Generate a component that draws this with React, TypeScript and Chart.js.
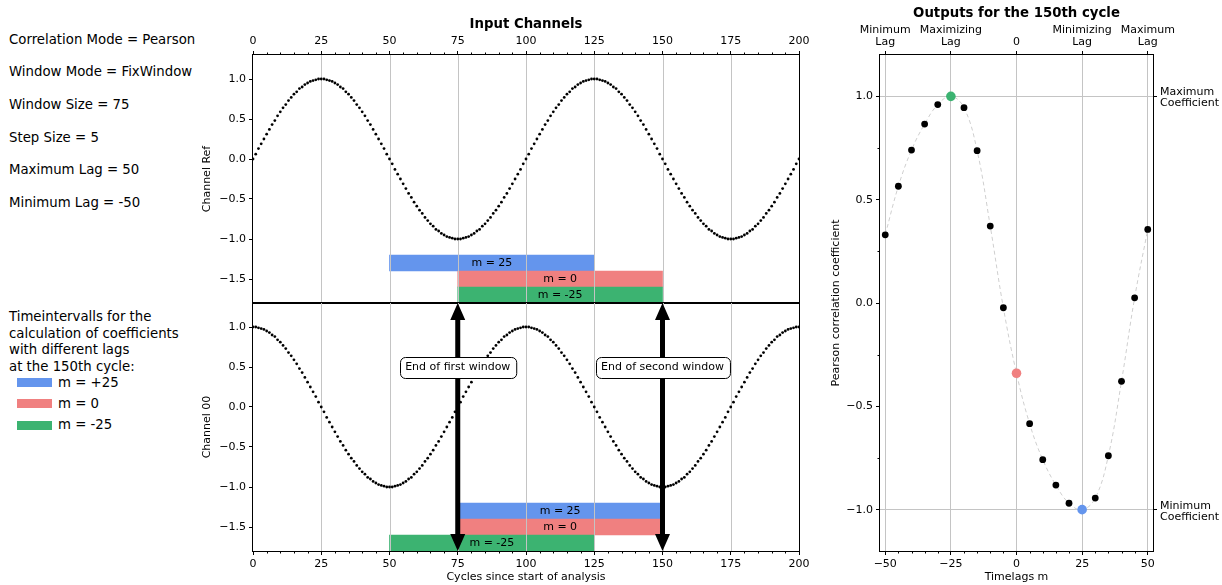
import React, { useEffect, useRef } from 'react';
import { Chart, registerables } from 'chart.js';

Chart.register(...registerables);

const FONT = "'DejaVu Sans', 'Liberation Sans', sans-serif";

// ---------------- data ----------------
// Channel Ref: one sample per cycle, cycles 0..200
const channelRef = [
  0,
  .06, .13, .19, .25, .31, .37, .43, .48, .54, .59, .64, .68, .73, .77, .81, .84, .88, .9, .93, .95, .97, .98, .99, 1, 1, 1, .99, .98, .97, .95, .93, .9, .88, .84, .81, .77, .73, .68, .64, .59, .54, .48, .43, .37, .31, .25, .19, .13, .06, 0,
  -.06, -.13, -.19, -.25, -.31, -.37, -.43, -.48, -.54, -.59, -.64, -.68, -.73, -.77, -.81, -.84, -.88, -.9, -.93, -.95, -.97, -.98, -.99, -1, -1, -1, -.99, -.98, -.97, -.95, -.93, -.9, -.88, -.84, -.81, -.77, -.73, -.68, -.64, -.59, -.54, -.48, -.43, -.37, -.31, -.25, -.19, -.13, -.06, 0,
  .06, .13, .19, .25, .31, .37, .43, .48, .54, .59, .64, .68, .73, .77, .81, .84, .88, .9, .93, .95, .97, .98, .99, 1, 1, 1, .99, .98, .97, .95, .93, .9, .88, .84, .81, .77, .73, .68, .64, .59, .54, .48, .43, .37, .31, .25, .19, .13, .06, 0,
  -.06, -.13, -.19, -.25, -.31, -.37, -.43, -.48, -.54, -.59, -.64, -.68, -.73, -.77, -.81, -.84, -.88, -.9, -.93, -.95, -.97, -.98, -.99, -1, -1, -1, -.99, -.98, -.97, -.95, -.93, -.9, -.88, -.84, -.81, -.77, -.73, -.68, -.64, -.59, -.54, -.48, -.43, -.37, -.31, -.25, -.19, -.13, -.06, 0,
];

// Channel 00: one sample per cycle, cycles 0..200
const channel00 = [
  1, 1, .99, .98, .97, .95, .93, .9, .88, .84, .81, .77, .73, .68, .64, .59, .54, .48, .43, .37, .31, .25, .19, .13, .06, 0,
  -.06, -.13, -.19, -.25, -.31, -.37, -.43, -.48, -.54, -.59, -.64, -.68, -.73, -.77, -.81, -.84, -.88, -.9, -.93, -.95, -.97, -.98, -.99, -1, -1, -1, -.99, -.98, -.97, -.95, -.93, -.9, -.88, -.84, -.81, -.77, -.73, -.68, -.64, -.59, -.54, -.48, -.43, -.37, -.31, -.25, -.19, -.13, -.06, 0,
  .06, .13, .19, .25, .31, .37, .43, .48, .54, .59, .64, .68, .73, .77, .81, .84, .88, .9, .93, .95, .97, .98, .99, 1, 1, 1, .99, .98, .97, .95, .93, .9, .88, .84, .81, .77, .73, .68, .64, .59, .54, .48, .43, .37, .31, .25, .19, .13, .06, 0,
  -.06, -.13, -.19, -.25, -.31, -.37, -.43, -.48, -.54, -.59, -.64, -.68, -.73, -.77, -.81, -.84, -.88, -.9, -.93, -.95, -.97, -.98, -.99, -1, -1, -1, -.99, -.98, -.97, -.95, -.93, -.9, -.88, -.84, -.81, -.77, -.73, -.68, -.64, -.59, -.54, -.48, -.43, -.37, -.31, -.25, -.19, -.13, -.06, 0,
  .06, .13, .19, .25, .31, .37, .43, .48, .54, .59, .64, .68, .73, .77, .81, .84, .88, .9, .93, .95, .97, .98, .99, 1, 1,
];

const cycleTicks = [0, 25, 50, 75, 100, 125, 150, 175, 200];
const cycleGrid = [25, 50, 75, 100, 125, 150, 175];
const channelTicks = [-1.5, -1, -0.5, 0, 0.5, 1];

// time interval bars (rows in channel units)
const barLabels = ['m = 25', 'm = 0', 'm = -25'];
const barColors = ['#6495ED', '#F08080', '#3CB371'];
const barRows = [-1.3, -1.5, -1.7];
const topBarStart = [50, 75, 75];
const topBarEnd = [125, 150, 150];
const bottomBarStart = [75, 75, 50];
const bottomBarEnd = [150, 150, 125];

const windowEnds = [75, 150];
const windowLabels = ['End of first window', 'End of second window'];
const windowLabelLevel = 0.5;

// outputs
const lags = [-50, -45, -40, -35, -30, -25, -20, -15, -10, -5, 0, 5, 10, 15, 20, 25, 30, 35, 40, 45, 50];
const coefficients = [0.33, 0.565, 0.74, 0.866, 0.96, 1.0, 0.945, 0.737, 0.372, -0.023, -0.34, -0.584, -0.758, -0.881, -0.969, -1.0, -0.944, -0.739, -0.379, 0.025, 0.356];
const maximizingLag = -25;
const zeroLag = 0;
const minimizingLag = 25;
const lagTicks = [-50, -25, 0, 25, 50];
const lagTopLabels: (string | string[])[] = [['Minimum', 'Lag'], ['Maximizing', 'Lag'], '0', ['Minimizing', 'Lag'], ['Maximum', 'Lag']];
const coefTicks = [-1, -0.5, 0, 0.5, 1];
const coefMarkTicks = [-1, 1];
const coefMarkLabels = [['Minimum', 'Coefficient'], ['Maximum', 'Coefficient']];

const infoLines = [
  'Correlation Mode = Pearson',
  'Window Mode = FixWindow',
  'Window Size = 75',
  'Step Size = 5',
  'Maximum Lag = 50',
  'Minimum Lag = -50',
];
const legendTitleLines = ['Timeintervalls for the', 'calculation of coefficients', 'with different lags', 'at the 150th cycle:'];
const legendLabels = ['m = +25', 'm = 0', 'm = -25'];
const legendColors = ['#6495ED', '#F08080', '#3CB371'];

// ---------------- helpers ----------------
const fmt1 = (v: number) => (v < 0 ? '\u2212' : '') + Math.abs(v).toFixed(1);
const fmt0 = (v: number) => (v < 0 ? '\u2212' : '') + String(Math.abs(Math.round(v)));
const SMALL = 11;
const BIG = 13.3;
const tickFont = { family: FONT, size: SMALL, lineHeight: 1.2 };
const GRID = '#c4c4c4';

function drawFrame(chart: any) {
  const { ctx, chartArea: a } = chart;
  ctx.save();
  ctx.strokeStyle = '#000';
  ctx.lineWidth = 1;
  ctx.strokeRect(Math.round(a.left) - 0.5, Math.round(a.top) - 0.5, Math.round(a.right - a.left) + 1, Math.round(a.bottom - a.top) + 1);
  ctx.restore();
}

function drawMinorX(chart: any, id: string, side: 'top' | 'bottom', from: number, to: number, step: number, skip: number) {
  const { ctx, chartArea: a } = chart;
  const s = chart.scales[id];
  ctx.save();
  ctx.strokeStyle = '#000';
  ctx.lineWidth = 1;
  for (let v = from; v <= to + 1e-9; v += step) {
    if (Math.abs(v / skip - Math.round(v / skip)) < 1e-6) continue;
    const x = Math.round(s.getPixelForValue(v)) + 0.5;
    ctx.beginPath();
    if (side === 'top') { ctx.moveTo(x, a.top); ctx.lineTo(x, a.top - 2.5); }
    else { ctx.moveTo(x, a.bottom); ctx.lineTo(x, a.bottom + 2.5); }
    ctx.stroke();
  }
  ctx.restore();
}

function drawMinorY(chart: any, id: string, values: number[]) {
  const { ctx, chartArea: a } = chart;
  const s = chart.scales[id];
  ctx.save();
  ctx.strokeStyle = '#000';
  ctx.lineWidth = 1;
  values.forEach((v) => {
    const y = Math.round(s.getPixelForValue(v)) + 0.5;
    ctx.beginPath();
    ctx.moveTo(a.left, y);
    ctx.lineTo(a.left - 2.5, y);
    ctx.stroke();
  });
  ctx.restore();
}

function drawCycleGrid(chart: any) {
  const { ctx, chartArea: a } = chart;
  const s = chart.scales.x;
  ctx.save();
  ctx.strokeStyle = GRID;
  ctx.lineWidth = 1;
  cycleGrid.forEach((v) => {
    const x = Math.round(s.getPixelForValue(v)) + 0.5;
    ctx.beginPath();
    ctx.moveTo(x, a.top);
    ctx.lineTo(x, a.bottom);
    ctx.stroke();
  });
  ctx.restore();
}

function drawBarLabels(chart: any) {
  const { ctx } = chart;
  const meta = chart.getDatasetMeta(0);
  ctx.save();
  ctx.fillStyle = '#000';
  ctx.font = `${SMALL}px ${FONT}`;
  ctx.textAlign = 'center';
  ctx.textBaseline = 'middle';
  meta.data.forEach((el: any, i: number) => {
    const cx = (el.x + el.base) / 2;
    ctx.fillText(barLabels[i], cx, el.y + 0.5);
  });
  ctx.restore();
}

function drawDoubleArrow(ctx: CanvasRenderingContext2D, x: number, yTop: number, yBot: number) {
  const shaft = 5, headW = 15, headL = 17;
  ctx.save();
  ctx.fillStyle = '#000';
  ctx.beginPath();
  ctx.moveTo(x, yTop);
  ctx.lineTo(x + headW / 2, yTop + headL);
  ctx.lineTo(x + shaft / 2, yTop + headL);
  ctx.lineTo(x + shaft / 2, yBot - headL);
  ctx.lineTo(x + headW / 2, yBot - headL);
  ctx.lineTo(x, yBot);
  ctx.lineTo(x - headW / 2, yBot - headL);
  ctx.lineTo(x - shaft / 2, yBot - headL);
  ctx.lineTo(x - shaft / 2, yTop + headL);
  ctx.lineTo(x - headW / 2, yTop + headL);
  ctx.closePath();
  ctx.fill();
  ctx.restore();
}

function drawLabelBox(ctx: CanvasRenderingContext2D, text: string, cx: number, cy: number) {
  ctx.save();
  ctx.font = `${SMALL}px ${FONT}`;
  const w = ctx.measureText(text).width + 11;
  const h = 21;
  const x = Math.round(cx - w / 2) + 0.5;
  const y = Math.round(cy - h / 2) + 0.5;
  const r = 5;
  ctx.beginPath();
  ctx.moveTo(x + r, y);
  ctx.lineTo(x + w - r, y);
  ctx.arcTo(x + w, y, x + w, y + r, r);
  ctx.lineTo(x + w, y + h - r);
  ctx.arcTo(x + w, y + h, x + w - r, y + h, r);
  ctx.lineTo(x + r, y + h);
  ctx.arcTo(x, y + h, x, y + h - r, r);
  ctx.lineTo(x, y + r);
  ctx.arcTo(x, y, x + r, y, r);
  ctx.closePath();
  ctx.fillStyle = '#fff';
  ctx.fill();
  ctx.strokeStyle = '#000';
  ctx.lineWidth = 1;
  ctx.stroke();
  ctx.fillStyle = '#000';
  ctx.textAlign = 'center';
  ctx.textBaseline = 'middle';
  ctx.fillText(text, cx, cy + 0.5);
  ctx.restore();
}

function cycleXScale(position: 'top' | 'bottom', height: number, title?: string) {
  return {
    type: 'linear',
    position,
    min: 0,
    max: 200,
    offset: false,
    afterBuildTicks: (s: any) => { s.ticks = cycleTicks.map((v) => ({ value: v })); },
    afterFit: (s: any) => { s.height = height; s.paddingLeft = 0; s.paddingRight = 0; },
    ticks: { font: tickFont, color: '#000', padding: 3, maxRotation: 0, autoSkip: false, callback: (v: any) => fmt0(Number(v)) },
    grid: { drawOnChartArea: false, drawTicks: true, tickLength: 4, tickColor: '#000', tickWidth: 1, offset: false },
    border: { display: false },
    title: title
      ? { display: true, text: title, font: tickFont, color: '#000', padding: { top: 0, bottom: 1.4 } }
      : { display: false },
  };
}

function channelYScale(title: string) {
  return {
    type: 'linear',
    position: 'left',
    min: -1.8,
    max: 1.3,
    offset: false,
    afterBuildTicks: (s: any) => { s.ticks = channelTicks.map((v) => ({ value: v })); },
    afterFit: (s: any) => { s.width = 63; s.paddingTop = 0; s.paddingBottom = 0; },
    ticks: { font: tickFont, color: '#000', padding: 3, autoSkip: false, callback: (v: any) => fmt1(Number(v)) },
    grid: { drawOnChartArea: false, drawTicks: true, tickLength: 4, tickColor: '#000', tickWidth: 1, offset: false },
    border: { display: false },
    title: { display: true, text: title, font: tickFont, color: '#000', padding: { top: 11, bottom: 0 } },
  };
}

function channelConfig(kind: 'top' | 'bottom'): any {
  const values = kind === 'top' ? channelRef : channel00;
  const starts = kind === 'top' ? topBarStart : bottomBarStart;
  const ends = kind === 'top' ? topBarEnd : bottomBarEnd;
  const plugin = {
    id: 'channelDecor' + kind,
    afterDatasetDraw(chart: any, args: any) {
      if (args.meta.type === 'bar') drawCycleGrid(chart);
    },
    afterDatasetsDraw(chart: any) {
      drawBarLabels(chart);
      if (kind === 'top') {
        drawMinorX(chart, 'x', 'top', 0, 200, 5, 25);
      } else {
        drawMinorX(chart, 'x', 'bottom', 0, 200, 5, 25);
        const xs = chart.scales.x;
        const ys = chart.scales.y;
        windowEnds.forEach((v) => {
          drawDoubleArrow(chart.ctx, xs.getPixelForValue(v), ys.getPixelForValue(ys.max), ys.getPixelForValue(ys.min));
        });
        windowEnds.forEach((v, i) => {
          drawLabelBox(chart.ctx, windowLabels[i], xs.getPixelForValue(v), ys.getPixelForValue(windowLabelLevel));
        });
      }
      drawFrame(chart);
    },
    afterDraw(chart: any) {
      if (kind !== 'top') return;
      const { ctx, chartArea: a } = chart;
      ctx.save();
      ctx.font = `bold ${BIG}px ${FONT}`;
      ctx.fillStyle = '#000';
      ctx.textAlign = 'center';
      ctx.textBaseline = 'middle';
      ctx.fillText('Input Channels', (a.left + a.right) / 2, 25);
      ctx.restore();
    },
  };
  return {
    type: 'scatter',
    data: {
      datasets: [
        {
          type: 'bar',
          indexAxis: 'y',
          xAxisID: 'x',
          yAxisID: 'y',
          data: barRows.map((r, i) => ({ y: r, x: [starts[i], ends[i]] })),
          backgroundColor: barColors,
          borderWidth: 0,
          barThickness: 16,
          grouped: false,
          order: 2,
        },
        {
          type: 'scatter',
          xAxisID: 'x',
          yAxisID: 'y',
          data: values.map((v, i) => ({ x: i, y: v })),
          pointRadius: 1.4,
          pointBackgroundColor: '#000',
          pointBorderWidth: 0,
          showLine: false,
          order: 1,
        },
      ],
    },
    options: {
      responsive: false,
      animation: false,
      devicePixelRatio: 1,
      events: [],
      layout: kind === 'top'
        ? { padding: { left: 0, right: 21, top: 0, bottom: 7 } }
        : { padding: { left: 0, right: 21, top: 7, bottom: 0 } },
      plugins: { legend: { display: false }, tooltip: { enabled: false }, title: { display: false } },
      scales: {
        x: kind === 'top' ? cycleXScale('top', 55) : cycleXScale('bottom', 34, 'Cycles since start of analysis'),
        y: channelYScale(kind === 'top' ? 'Channel Ref' : 'Channel 00'),
      },
    },
    plugins: [plugin],
  };
}

function outputConfig(): any {
  const pts = lags.map((l, i) => ({ x: l, y: coefficients[i] }));
  const colorFor = (l: number) =>
    l === maximizingLag ? '#3CB371' : l === zeroLag ? '#F08080' : l === minimizingLag ? '#6495ED' : '#000';
  const isSpecial = (l: number) => l === maximizingLag || l === zeroLag || l === minimizingLag;
  const plugin = {
    id: 'outputDecor',
    afterDatasetsDraw(chart: any) {
      drawMinorX(chart, 'x', 'bottom', -50, 50, 5, 25);
      drawMinorY(chart, 'y', [-0.75, -0.25, 0.25, 0.75]);
      drawFrame(chart);
    },
    afterDraw(chart: any) {
      const { ctx, chartArea: a } = chart;
      ctx.save();
      ctx.font = `bold ${BIG}px ${FONT}`;
      ctx.fillStyle = '#000';
      ctx.textAlign = 'center';
      ctx.textBaseline = 'middle';
      ctx.fillText('Outputs for the 150th cycle', (a.left + a.right) / 2, 14);
      ctx.restore();
    },
  };
  const baseTicks = { font: tickFont, color: '#000', padding: 3, maxRotation: 0, autoSkip: false };
  return {
    type: 'scatter',
    data: {
      datasets: [
        {
          type: 'line',
          xAxisID: 'x',
          yAxisID: 'y',
          data: pts,
          borderColor: '#cfcfcf',
          borderWidth: 1,
          borderDash: [4, 3],
          pointRadius: 0,
          tension: 0.4,
          fill: false,
          order: 3,
        },
        {
          type: 'scatter',
          xAxisID: 'x',
          yAxisID: 'y',
          data: pts,
          pointRadius: lags.map((l) => (isSpecial(l) ? 4.8 : 3.4)),
          pointBackgroundColor: lags.map(colorFor),
          pointBorderWidth: 0,
          showLine: false,
          order: 1,
        },
      ],
    },
    options: {
      responsive: false,
      animation: false,
      devicePixelRatio: 1,
      events: [],
      layout: { padding: 0 },
      plugins: { legend: { display: false }, tooltip: { enabled: false }, title: { display: false } },
      scales: {
        x: {
          type: 'linear', position: 'bottom', min: -52, max: 52, offset: false,
          afterBuildTicks: (s: any) => { s.ticks = lagTicks.map((v) => ({ value: v })); },
          afterFit: (s: any) => { s.height = 34; s.paddingLeft = 0; s.paddingRight = 0; },
          ticks: { ...baseTicks, callback: (v: any) => fmt0(Number(v)) },
          grid: { drawOnChartArea: false, tickLength: 4, tickColor: '#000', tickWidth: 1 },
          border: { display: false },
          title: { display: true, text: 'Timelags m', font: tickFont, color: '#000', padding: { top: 0, bottom: 1.4 } },
        },
        x2: {
          type: 'linear', position: 'top', axis: 'x', min: -52, max: 52, offset: false,
          afterBuildTicks: (s: any) => { s.ticks = lagTicks.map((v) => ({ value: v })); },
          afterFit: (s: any) => { s.height = 55; s.paddingLeft = 0; s.paddingRight = 0; },
          ticks: {
            ...baseTicks,
            font: { family: FONT, size: SMALL, lineHeight: 1.1 },
            callback: (v: any) => lagTopLabels[lagTicks.indexOf(Number(v))],
          },
          grid: { drawOnChartArea: true, color: GRID, lineWidth: 1, tickLength: 4, tickColor: '#000', tickWidth: 1 },
          border: { display: false },
        },
        y: {
          type: 'linear', position: 'left', min: -1.2, max: 1.2, offset: false,
          afterBuildTicks: (s: any) => { s.ticks = coefTicks.map((v) => ({ value: v })); },
          afterFit: (s: any) => { s.width = 60; s.paddingTop = 0; s.paddingBottom = 0; },
          ticks: { ...baseTicks, callback: (v: any) => fmt1(Number(v)) },
          grid: { drawOnChartArea: false, tickLength: 4, tickColor: '#000', tickWidth: 1 },
          border: { display: false },
          title: { display: true, text: 'Pearson correlation coefficient', font: tickFont, color: '#000', padding: { top: 9.4, bottom: 0 } },
        },
        y2: {
          type: 'linear', position: 'right', axis: 'y', min: -1.2, max: 1.2, offset: false,
          afterBuildTicks: (s: any) => { s.ticks = coefMarkTicks.map((v) => ({ value: v })); },
          afterFit: (s: any) => { s.width = 69; s.paddingTop = 0; s.paddingBottom = 0; },
          ticks: {
            ...baseTicks,
            labelOffset: 1.5,
            font: { family: FONT, size: SMALL, lineHeight: 1.0 },
            callback: (v: any) => coefMarkLabels[coefMarkTicks.indexOf(Number(v))],
          },
          grid: { drawOnChartArea: true, color: GRID, lineWidth: 1, tickLength: 4, tickColor: '#000', tickWidth: 1 },
          border: { display: false },
        },
      },
    },
    plugins: [plugin],
  };
}

function ChartCanvas(props: { left: number; top: number; width: number; height: number; make: () => any }) {
  const ref = useRef<HTMLCanvasElement | null>(null);
  useEffect(() => {
    if (!ref.current) return;
    const chart = new Chart(ref.current, props.make());
    return () => chart.destroy();
  }, []);
  return (
    <canvas
      ref={ref}
      width={props.width}
      height={props.height}
      style={{ position: 'absolute', left: props.left, top: props.top, width: props.width, height: props.height }}
    />
  );
}

const textStyle: React.CSSProperties = {
  position: 'absolute',
  fontFamily: FONT,
  fontSize: BIG,
  lineHeight: '16px',
  color: '#000',
  whiteSpace: 'nowrap',
};

// baseline offset inside a 16px line box for a 13.3px DejaVu Sans font
const BASE = 13.3;

export default function App() {
  return (
    <div style={{ position: 'absolute', left: 0, top: 0, width: 1222, height: 585, background: '#fff', overflow: 'hidden' }}>
      {infoLines.map((t, i) => (
        <div key={'info' + i} style={{ ...textStyle, left: 9, top: 45 + i * 32.6 - BASE }}>{t}</div>
      ))}
      {legendTitleLines.map((t, i) => (
        <div key={'lt' + i} style={{ ...textStyle, left: 9, top: 322.2 + i * 16.7 - BASE }}>{t}</div>
      ))}
      {legendLabels.map((t, i) => (
        <React.Fragment key={'lg' + i}>
          <div style={{ position: 'absolute', left: 17, top: 378 + i * 21.3, width: 35, height: 9, background: legendColors[i] }} />
          <div style={{ ...textStyle, left: 58, top: 388.2 + i * 21.2 - BASE }}>{t}</div>
        </React.Fragment>
      ))}
      <ChartCanvas left={190} top={0} width={630} height={310} make={() => channelConfig('top')} />
      <ChartCanvas left={190} top={296} width={630} height={289} make={() => channelConfig('bottom')} />
      <ChartCanvas left={820} top={0} width={402} height={585} make={() => outputConfig()} />
    </div>
  );
}
